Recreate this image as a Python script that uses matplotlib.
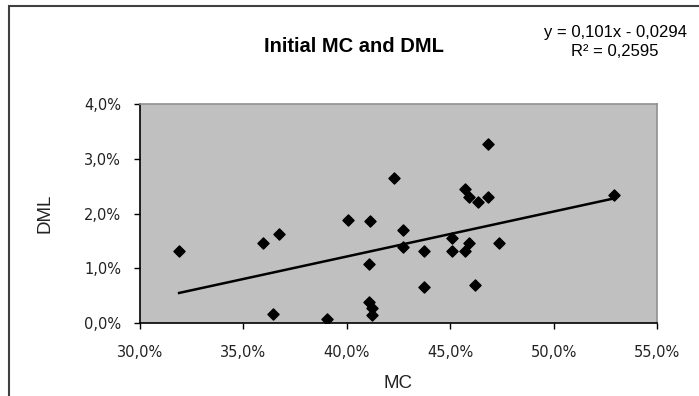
import numpy as np
import matplotlib.pyplot as plt
from matplotlib.ticker import FuncFormatter
from matplotlib.patches import Rectangle

plt.rcParams['font.family'] = ['Liberation Sans', 'DejaVu Sans']

# MC (%) and DML (%)
mc = [31.89, 35.93, 36.72, 40.06, 41.11, 41.07, 36.43, 39.03, 41.06, 41.23, 41.23,
      46.84, 42.28, 45.72, 45.93, 46.36, 46.81, 42.73, 42.73, 43.75, 45.10, 45.10,
      45.73, 45.93, 47.34, 43.75, 46.20, 52.92]
dml = [1.32, 1.46, 1.62, 1.89, 1.87, 1.08, 0.16, 0.08, 0.39, 0.27, 0.15,
       3.27, 2.64, 2.45, 2.31, 2.21, 2.31, 1.69, 1.38, 1.32, 1.56, 1.31,
       1.31, 1.47, 1.46, 0.66, 0.69, 2.33]
title = 'Initial MC and DML'
equation = 'y = 0,101x - 0,0294\nR² = 0,2595'

mc = np.asarray(mc)
dml = np.asarray(dml)

fig = plt.figure(figsize=(6.99, 3.96), dpi=100)
ax = fig.add_axes([140/699, 1-323/396, 517/699, 219/396])
ax.set_facecolor('#c0c0c0')

ax.scatter(mc, dml, marker='D', s=32, color='black', zorder=3)

# linear trendline
k, b = np.polyfit(mc, dml, 1)
xs = np.array([mc.min(), mc.max()])
ax.plot(xs, k*xs + b, color='black', lw=1.8, zorder=2)

ax.set_xlim(30, 55)
ax.set_ylim(0, 4)
ax.set_xticks(np.arange(30, 56, 5))
ax.set_yticks(np.arange(0, 5, 1))
fmt = FuncFormatter(lambda v, p: ('%.1f%%' % v).replace('.', ','))
ax.xaxis.set_major_formatter(fmt)
ax.yaxis.set_major_formatter(fmt)
ax.tick_params(direction='out', length=4.5, width=1, colors='black')
ax.tick_params(axis='x', pad=11)
ax.tick_params(axis='y', pad=9)
for lab in ax.get_xticklabels() + ax.get_yticklabels():
    lab.set_family('DejaVu Sans')
    lab.set_fontsize(10.5)
    lab.set_color('#222222')
for s in ['left', 'bottom']:
    ax.spines[s].set_color('black')
    ax.spines[s].set_linewidth(1.2)
for s in ['top', 'right']:
    ax.spines[s].set_color('#909090')
    ax.spines[s].set_linewidth(1.2)

ax.set_xlabel('MC', fontsize=13.5, va='center', color='#222222')
ax.set_ylabel('DML', fontsize=13.5, va='center', color='#222222')
ax.xaxis.set_label_coords((398-140)/517, (323-383)/219)
ax.yaxis.set_label_coords((45-140)/517, 0.5)

fig.text(354/699, 1-47/396, title, fontsize=14.5, fontweight='bold', ha='center', va='center')
fig.text(615/699, 1-33/396, equation.split('\n')[0], fontsize=12, ha='center', va='center')
fig.text(615/699, 1-51/396, equation.split('\n')[1], fontsize=12, ha='center', va='center')

# chart border
fig.patches.append(Rectangle((9/699, -0.1), 1.0, 1-6/396+0.1, transform=fig.transFigure,
                             fill=False, edgecolor='#404040', lw=1.5))

fig.savefig('out.png', dpi=100)
